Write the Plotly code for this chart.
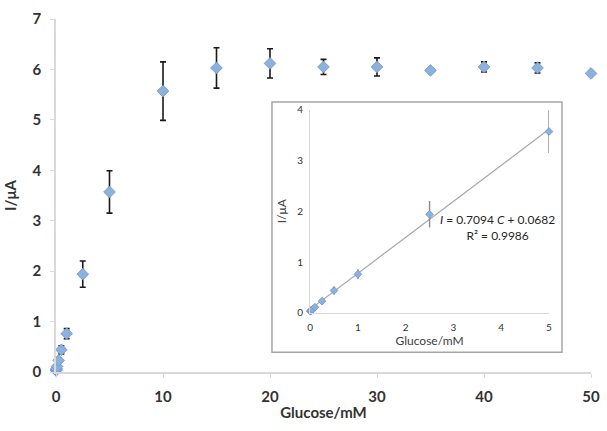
import plotly.graph_objects as go

# main data
glucose = [0.005, 0.01, 0.025, 0.05, 0.1, 0.25, 0.5, 1, 2.5, 5, 10, 15, 20, 25, 30, 35, 40, 45, 50]
current = [0.03, 0.04, 0.05, 0.07, 0.11, 0.23, 0.44, 0.76, 1.94, 3.57, 5.57, 6.03, 6.12, 6.05, 6.05, 5.98, 6.05, 6.03, 5.92]
err = [0.01, 0.01, 0.02, 0.02, 0.03, 0.04, 0.08, 0.1, 0.26, 0.42, 0.58, 0.4, 0.29, 0.15, 0.18, 0.03, 0.1, 0.1, 0.03]

# inset (linear range) data
lin_x = glucose[:10]
lin_y = current[:10]
lin_err = err[:10]
slope, intercept = 0.7094, 0.0682
fit_x = [0, 5]
fit_y = [slope * v + intercept for v in fit_x]

xticks_main = [0, 10, 20, 30, 40, 50]
yticks_main = [0, 1, 2, 3, 4, 5, 6, 7]
xticks_in = [0, 1, 2, 3, 4, 5]
yticks_in = [0, 1, 2, 3, 4]

marker_fill = "#8DB1DE"
marker_edge = "#6C96CC"

fig = go.Figure()
fig.add_trace(go.Scatter(
    x=glucose, y=current, mode="markers",
    marker=dict(symbol="diamond", size=9, color=marker_fill, line=dict(color=marker_edge, width=0.8)),
    error_y=dict(type="data", array=err, color="#1a1a1a", thickness=1.6, width=3),
    cliponaxis=False, xaxis="x", yaxis="y", showlegend=False))

fig.add_trace(go.Scatter(
    x=fit_x, y=fit_y, mode="lines", line=dict(color="#a6a6a6", width=1.2),
    xaxis="x2", yaxis="y2", showlegend=False, cliponaxis=False))
fig.add_trace(go.Scatter(
    x=lin_x, y=lin_y, mode="markers",
    marker=dict(symbol="diamond", size=6, color=marker_fill, line=dict(color=marker_edge, width=0.8)),
    error_y=dict(type="data", array=lin_err, color="#8c8c8c", thickness=1.4, width=0),
    cliponaxis=False, xaxis="x2", yaxis="y2", showlegend=False))

axis_font = dict(family="Lato, Open Sans, sans-serif", size=15, color="#333333")
fig.update_layout(
    width=607, height=431,
    margin=dict(l=56, r=16, t=14, b=59),
    plot_bgcolor="white", paper_bgcolor="white",
    xaxis=dict(range=[0, 50], tickvals=xticks_main, showgrid=False, zeroline=False, automargin=False,
               showline=True, linecolor="#d9d9d9", linewidth=1.5,
               ticks="outside", ticklen=4, tickcolor="#d9d9d9", ticklabelstandoff=6,
               tickfont=dict(family="Lato", size=15, color="#333333", weight="bold"),
               title=dict(text="<b>Glucose/mM</b>", font=axis_font, standoff=4)),
    yaxis=dict(range=[0, 7], tickvals=yticks_main, showgrid=False, zeroline=False, automargin=False,
               showline=True, linecolor="#d9d9d9", linewidth=1.5,
               ticks="outside", ticklen=4, tickcolor="#d9d9d9", ticklabelstandoff=6,
               tickfont=dict(family="Lato", size=15, color="#333333", weight="bold"),
               title=dict(text="<b>I/μA</b>", font=axis_font, standoff=12)),
    xaxis2=dict(domain=[0.475, 0.9215], anchor="y2", range=[0, 5], tickvals=xticks_in,
                showgrid=False, zeroline=False, showline=True, linecolor="#d9d9d9", linewidth=1,
                ticks="", ticklabelstandoff=5, tickfont=dict(family="Lato", size=10, color="#333333"),
                title=dict(text="Glucose/mM", font=dict(family="Lato", size=12, color="#404040"), standoff=2)),
    yaxis2=dict(domain=[0.1676, 0.743], anchor="x2", range=[0, 4], tickvals=yticks_in,
                showgrid=False, zeroline=False, showline=True, linecolor="#d9d9d9", linewidth=1,
                ticks="", ticklabelstandoff=4, tickfont=dict(family="Lato", size=10, color="#333333"),
                title=dict(text="I/μA", font=dict(family="Lato", size=12, color="#404040"), standoff=8)),
    shapes=[dict(type="rect", xref="paper", yref="paper", x0=0.4037, x1=0.9458, y0=0.0559, y1=0.765,
                 line=dict(color="#a6a6a6", width=1.5), fillcolor="white", layer="below")],
    annotations=[
        dict(xref="x2", yref="y2", x=3.92, y=1.68, text="<i>I</i> = 0.7094 <i>C</i> + 0.0682<br>R² = 0.9986",
             showarrow=False, font=dict(family="Liberation Sans Narrow, Lato", size=12, color="#262626"),
             align="center"),
    ],
)

fig.write_html("out.html", config={"displayModeBar": False},
               post_script="document.body.style.margin='0';")
